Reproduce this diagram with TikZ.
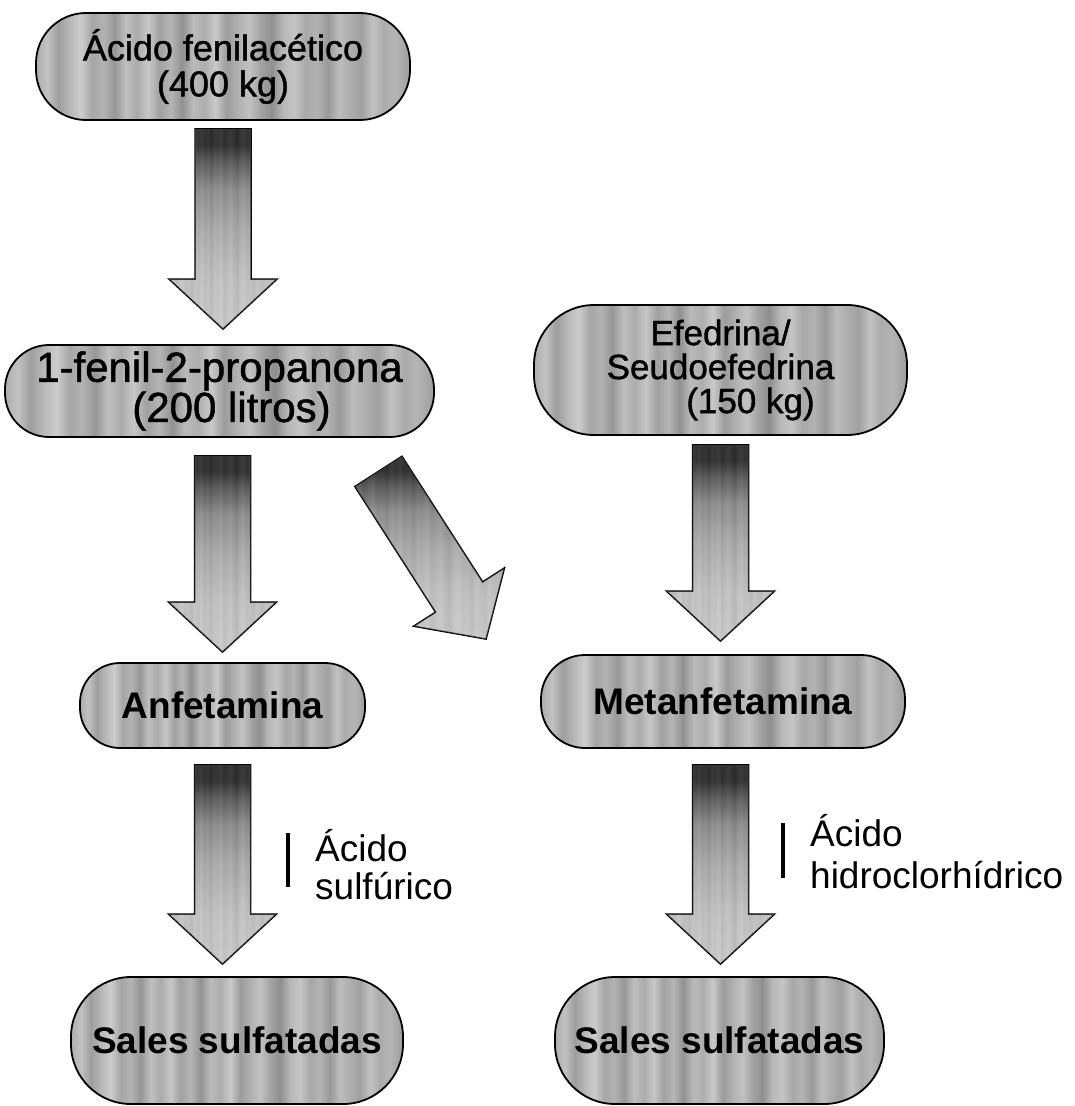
\documentclass[tikz,border=0pt]{standalone}
\usepackage{fontspec}
\setmainfont{Liberation Sans}
\newfontfamily\heavyreg[FakeBold=1.2]{Liberation Sans}
\usetikzlibrary{calc}

% grainy vertical streaks used to fill the boxes
\pgfdeclarehorizontalshading{streaks}{100bp}{%
  color(0bp)=(black!32); color(25bp)=(black!32); color(26.5bp)=(black!24);
  color(28bp)=(black!38); color(29.5bp)=(black!28); color(31bp)=(black!20);
  color(32.5bp)=(black!35); color(34bp)=(black!30); color(35.5bp)=(black!41);
  color(37bp)=(black!25); color(38.5bp)=(black!33); color(40bp)=(black!22);
  color(41.5bp)=(black!37); color(43bp)=(black!29); color(44.5bp)=(black!43);
  color(46bp)=(black!27); color(47.5bp)=(black!32); color(49bp)=(black!21);
  color(50.5bp)=(black!39); color(52bp)=(black!31); color(53.5bp)=(black!24);
  color(55bp)=(black!36); color(56.5bp)=(black!44); color(58bp)=(black!28);
  color(59.5bp)=(black!23); color(61bp)=(black!34); color(62.5bp)=(black!30);
  color(64bp)=(black!40); color(65.5bp)=(black!26); color(67bp)=(black!32);
  color(68.5bp)=(black!37); color(70bp)=(black!24); color(71.5bp)=(black!33);
  color(73bp)=(black!29); color(74.5bp)=(black!36); color(100bp)=(black!36)}

% block arrows: black at the tail, fading to light grey at the head
\pgfdeclareverticalshading{arrowshade}{100bp}{%
  color(0bp)=(black!18); color(25bp)=(black!18); color(38bp)=(black!22);
  color(50bp)=(black!34); color(60bp)=(black!50); color(67bp)=(black!78);
  color(71bp)=(black); color(100bp)=(black)}

\tikzset{
  proc/.style={draw=black, line width=1.8pt, shade, shading=streaks,
    inner sep=0pt, align=center, text=black},
  regtext/.style={font=\fontsize{36}{36}\selectfont\heavyreg},
  boldtext/.style={font=\fontsize{37}{37}\selectfont\bfseries},
  arr/.style={draw=black, line width=1.5pt, line join=miter, shade,
    shading=arrowshade,
    postaction={shade, shading=streaks, fill opacity=0.3}},
  note/.style={anchor=base west, inner sep=0pt,
    font=\fontsize{37}{37}\selectfont},
  notebar/.style={line width=3.6pt, draw=black}
}

% a block arrow from tail point #2 to tip point #3
\newcommand\flowarrow[3][]{%
  \path (#2) coordinate (fa-s) (#3) coordinate (fa-t);
  \path ($(fa-t)!50pt!(fa-s)$) coordinate (fa-h);
  \draw[arr,#1]
    ($(fa-s)!28pt!90:(fa-t)$) -- ($(fa-h)!28pt!90:(fa-t)$)
    -- ($(fa-h)!54pt!90:(fa-t)$) -- (fa-t)
    -- ($(fa-h)!54pt!-90:(fa-t)$) -- ($(fa-h)!28pt!-90:(fa-t)$)
    -- ($(fa-s)!28pt!-90:(fa-t)$) -- cycle;}

\begin{document}
\begin{tikzpicture}[x=1pt,y=-1pt]
\useasboundingbox (0,0) rectangle (1074,1106);

% left column
\node[proc, regtext, minimum width=374pt, minimum height=107pt,
  rounded corners=50pt] (n1) at (223,66.5)
  {Ácido fenilacético\\(400 kg)};
\node[proc, font=\fontsize{42}{36}\selectfont\heavyreg, minimum width=429pt,
  minimum height=92pt, rounded corners=44pt] (n2) at (219.5,391)
  {1-fenil-2-propanona\\\hspace*{24pt}(200 litros)};
\node[proc, boldtext, minimum width=285pt, minimum height=85pt,
  rounded corners=40pt] (n4) at (222.5,705.5) {Anfetamina};
\node[proc, boldtext, minimum width=332pt, minimum height=127pt,
  rounded corners=60pt] (n6) at (237,1040.5) {Sales sulfatadas};

% right column
\node[proc, font=\fontsize{35}{34}\selectfont\heavyreg, minimum width=373pt,
  minimum height=130pt, rounded corners=60pt] (n3) at (720.5,370)
  {Efedrina/\\Seudoefedrina\\\hspace*{60pt}(150 kg)};
\node[proc, boldtext, minimum width=364pt, minimum height=93pt,
  rounded corners=44pt] (n5) at (723,701.5) {Metanfetamina};
\node[proc, boldtext, minimum width=329pt, minimum height=127pt,
  rounded corners=60pt] (n7) at (719.5,1040.5) {Sales sulfatadas};

% arrows between the steps
\flowarrow{$(n1.south)+(0,8)$}{$(n1.south |- n2.north)+(0,-15)$}
\flowarrow{$(n4.north |- n2.south)+(0,18)$}{$(n4.north)+(0,-10)$}
\flowarrow{$(n2.south east)+(-56.5,33.5)$}{$(n5.north west)+(-54,-15)$}
\flowarrow{$(n3.south)+(0,9)$}{$(n3.south |- n5.north)+(0,-13)$}
\flowarrow{$(n4.south)+(0,16)$}{$(n4.south |- n6.north)+(0,-12)$}
\flowarrow{$(n3.south |- n5.south)+(0,16)$}{$(n3.south |- n7.north)+(0,-12)$}

% reagents
\node[note] (rl1) at (315,861) {Ácido};
\node[note] (rl2) at (315,899) {sulfúrico};
\draw[notebar] ($(rl1.base west)+(-27,-28)$) -- ++(0,54);
\node[note] (rr1) at (810,846) {Ácido};
\node[note] (rr2) at (810,888) {hidroclorhídrico};
\draw[notebar] ($(rr1.base west)+(-27,-23)$) -- ++(0,55);
\end{tikzpicture}
\end{document}
